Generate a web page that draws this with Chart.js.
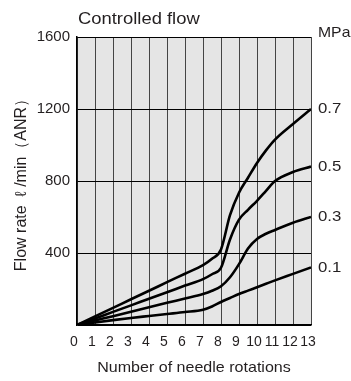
<!DOCTYPE html>
<html>
<head>
<meta charset="utf-8">
<script src="https://cdn.jsdelivr.net/npm/chart.js@4.4.1/dist/chart.umd.min.js"></script>
<style>
  html,body{margin:0;padding:0;background:#fff;}
  #wrap{width:351px;height:381px;}
</style>
</head>
<body>
<div id="wrap"><canvas id="c" width="351" height="381"></canvas></div>
<script>
// === Data ===
const rotations = [0, 1, 2, 3, 4, 5, 6, 7, 7.5, 8, 8.5, 9, 9.5, 10, 10.5, 11, 12, 13];
const p07 = [0, 48, 95, 143, 190, 238, 285, 333, 368, 420, 610, 735, 818, 900, 970, 1030, 1117, 1200];
const p05 = [0, 36, 73, 109, 146, 182, 219, 255, 282, 318, 475, 585, 640, 690, 745, 800, 850, 880];
const p03 = [0, 25, 49, 74, 98, 123, 147, 172, 190, 215, 265, 338, 425, 478, 507, 528, 568, 600];
const p01 = [0, 14, 27, 39, 50, 61, 72, 85, 103, 128, 150, 172, 191, 210, 229, 248, 284, 320];
const pressures = ['0.7', '0.5', '0.3', '0.1'];
const xTicks = [0,1,2,3,4,5,6,7,8,9,10,11,12,13];
const yTicks = [400, 800, 1200, 1600];

const FONT = '"Liberation Sans", Arial, sans-serif';
const INK = '#231f20';
const pts = arr => rotations.map((x,i)=>({x, y:arr[i]}));
const mk = (arr,lab) => ({label:lab, data:pts(arr), borderColor:'#000', borderWidth:2.6,
  pointRadius:0, fill:false, cubicInterpolationMode:'monotone'});

// text drawn a bit wider, like the printed original
function txt(ctx, s, x, y, size, sx){
  ctx.save(); ctx.translate(x, y); ctx.scale(sx||1, 1);
  ctx.font = size+'px '+FONT; ctx.fillText(s, 0, 0); ctx.restore();
}

// plot background + text labels
const decor = {
  id:'decor',
  beforeDraw(chart){
    const {ctx, chartArea:a} = chart;
    ctx.save(); ctx.fillStyle='#e5e5e5'; ctx.fillRect(a.left, a.top, a.right-a.left, a.bottom-a.top); ctx.restore();
  },
  afterDraw(chart){
    const {ctx, chartArea:a, scales:{y}} = chart;
    ctx.save();
    ctx.fillStyle=INK;
    ctx.textBaseline='alphabetic'; ctx.textAlign='left';
    txt(ctx, 'Controlled flow', 78, 24, 16, 1.15);
    txt(ctx, 'MPa', 318, 37, 15, 1.05);
    ctx.textBaseline='middle';
    chart.data.datasets.forEach(ds=>{
      const last = ds.data[ds.data.length-1];
      txt(ctx, ds.label, a.right+7, y.getPixelForValue(last.y), 15, 1.12);
    });
    ctx.textAlign='center';
    txt(ctx, 'Number of needle rotations', (a.left+a.right)/2, 368, 15, 1.07);
    ctx.translate(22, (a.top+a.bottom)/2); ctx.rotate(-Math.PI/2);
    txt(ctx, 'Flow rate  \u2113 /min\uFF08ANR\uFF09', 0, 0, 16, 1);
    ctx.restore();
  }
};

new Chart(document.getElementById('c'), {
  type:'line',
  data:{ datasets:[mk(p07,pressures[0]), mk(p05,pressures[1]), mk(p03,pressures[2]), mk(p01,pressures[3])] },
  options:{
    responsive:false, animation:false,
    layout:{ autoPadding:false, padding:{left:0, top:37, right:40, bottom:0} },
    plugins:{ legend:{display:false}, tooltip:{enabled:false} },
    scales:{
      x:{ type:'linear', min:0, max:13,
        afterBuildTicks(s){ s.ticks = xTicks.map(v=>({value:v})); },
        afterFit(s){ s.height = 56; },
        grid:{ color:'#444', lineWidth:1, drawTicks:false },
        border:{ color:'#000', width:1.5 },
        ticks:{ color:INK, font:{family:FONT, size:14}, padding:9, labelOffset:-3, maxRotation:0, autoSkip:false } },
      y:{ type:'linear', min:0, max:1600,
        afterBuildTicks(s){ s.ticks = [0].concat(yTicks).map(v=>({value:v})); },
        afterFit(s){ s.width = 77; },
        grid:{ color:'#000', lineWidth:1, drawTicks:false },
        border:{ color:'#000', width:1.5 },
        ticks:{ color:INK, font:{family:FONT, size:15}, padding:7,
          callback:v=> v===0 ? '' : String(v) } }
    }
  },
  plugins:[decor]
});
</script>
</body>
</html>
